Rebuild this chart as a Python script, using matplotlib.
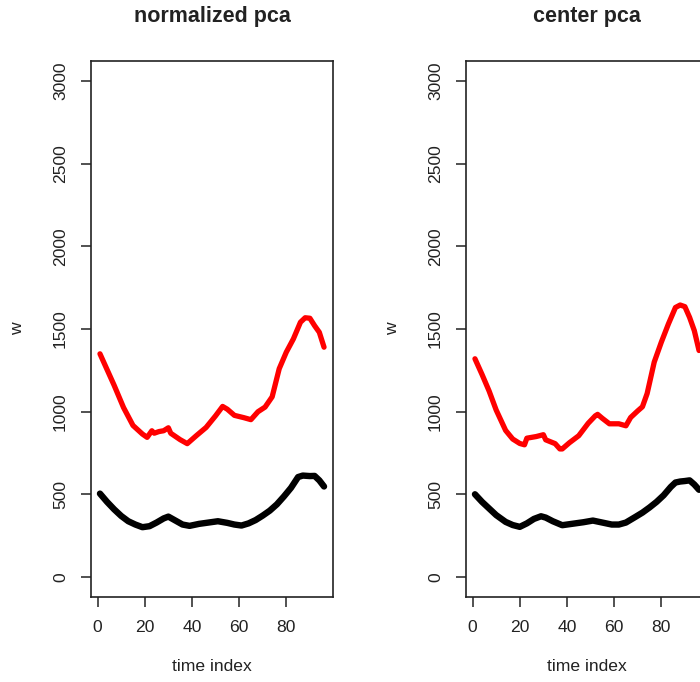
"""
Daily load profiles recovered from two PCA variants, drawn side by side
in the style of R base graphics.
"""

import matplotlib
matplotlib.use("Agg")
import matplotlib.pyplot as plt

plt.rcParams["font.family"] = ["Liberation Sans", "DejaVu Sans"]

# normalized pca
norm_red_t = [1, 4, 7, 11, 15, 19, 21, 23, 24, 26, 28, 30, 31, 35, 38, 42, 46, 50,
              53, 55, 58, 62, 65, 68, 71, 74, 77, 80, 83, 86, 88, 90, 92, 94, 96]
norm_red_w = [1350, 1255, 1160, 1025, 917, 865, 845, 885, 870, 880, 885, 903, 870,
              831, 807, 857, 905, 975, 1032, 1015, 978, 964, 952, 1000, 1028, 1090,
              1260, 1360, 1440, 1541, 1568, 1565, 1520, 1480, 1390]
norm_blk_t = [1, 4, 7, 10, 13, 16, 19, 22, 25, 28, 30, 33, 36, 39, 43, 47, 51, 55,
              58, 61, 64, 67, 70, 73, 76, 79, 82, 85, 87, 90, 92, 94, 96]
norm_blk_w = [505, 455, 410, 370, 338, 318, 302, 308, 330, 355, 366, 342, 318, 310,
              322, 330, 338, 328, 318, 312, 325, 345, 372, 402, 440, 488, 540, 605,
              614, 611, 612, 585, 548]

# center pca
cent_red_t = [1, 4, 7, 10, 14, 17, 20, 22, 23, 25, 27, 30, 31, 35, 37, 38, 41, 45,
              49, 52, 53, 55, 58, 62, 65, 67, 70, 72, 74, 77, 80, 83, 86, 88, 90,
              92, 94, 96]
cent_red_w = [1320, 1225, 1125, 1010, 887, 835, 808, 800, 840, 845, 850, 861, 830,
              807, 775, 775, 812, 855, 930, 975, 984, 960, 927, 927, 915, 965, 1005,
              1030, 1110, 1300, 1420, 1530, 1630, 1645, 1635, 1570, 1490, 1370]
cent_blk_t = [1, 4, 7, 10, 14, 17, 20, 23, 26, 29, 31, 34, 38, 43, 47, 51, 55, 59,
              62, 65, 69, 72, 75, 78, 81, 84, 86, 88, 90, 92, 94, 96]
cent_blk_w = [501, 455, 415, 375, 334, 315, 304, 325, 352, 368, 360, 338, 314, 324,
              332, 342, 330, 318, 318, 330, 364, 390, 421, 455, 495, 545, 572, 578,
              581, 585, 560, 528]

titles = ["normalized pca", "center pca"]
x_ticks = [0, 20, 40, 60, 80]
y_ticks = [0, 500, 1000, 1500, 2000, 2500, 3000]

W, H = 700, 682
fig = plt.figure(figsize=(W / 100, H / 100), dpi=100)
fig.patch.set_facecolor("white")

panels = [
    (91, norm_red_t, norm_red_w, norm_blk_t, norm_blk_w),
    (466, cent_red_t, cent_red_w, cent_blk_t, cent_blk_w),
]

for (left_px, rt, rw, bt, bw), title in zip(panels, titles):
    ax = fig.add_axes([left_px / W, 85 / H, 242 / W, 536 / H])
    ax.plot(rt, rw, color="#ff0000", lw=3.8, solid_capstyle="round",
            solid_joinstyle="round")
    ax.plot(bt, bw, color="black", lw=4.6, solid_capstyle="round",
            solid_joinstyle="round")

    ax.set_xlim(-2.8, 99.8)
    ax.set_ylim(-120, 3120)
    ax.set_xticks(x_ticks)
    ax.set_yticks(y_ticks)
    ax.set_yticklabels([str(v) for v in y_ticks], rotation=90, va="center")
    ax.tick_params(direction="out", length=7.5, width=1.1, labelsize=12.6,
                   pad=9, colors="#222222")

    for sp in ax.spines.values():
        sp.set_linewidth(1.2)
        sp.set_color("#222222")

    ax.set_title(title, fontsize=15.5, fontweight="bold", pad=28, color="#222222")
    ax.set_xlabel("time index", fontsize=12.6, labelpad=17, color="#222222")
    ax.set_ylabel("w", fontsize=12.6, labelpad=20, color="#222222")

fig.savefig("out.png", dpi=100, facecolor="white")
